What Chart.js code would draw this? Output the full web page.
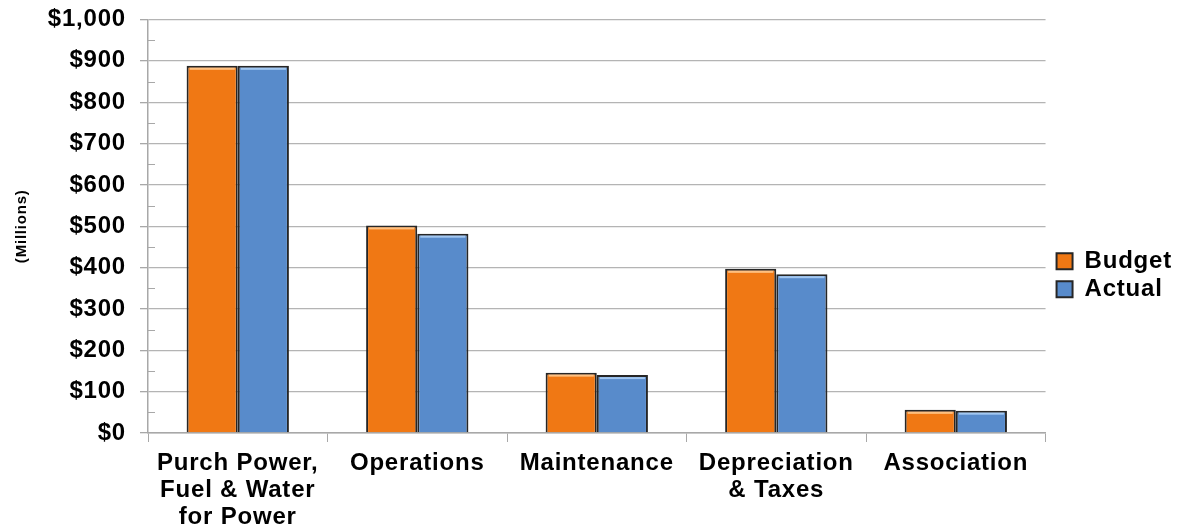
<!DOCTYPE html>
<html>
<head>
<meta charset="utf-8">
<script src="https://cdn.jsdelivr.net/npm/chart.js@4/dist/chart.umd.min.js"></script>
<style>
  body { margin: 0; background: #fff; }
  canvas { display: block; }
</style>
</head>
<body>
<canvas id="expenseChart" width="1179" height="531"></canvas>
<script>
const categories = [
    ["Purch Power,", "Fuel & Water", "for Power"],
    "Operations",
    "Maintenance",
    ["Depreciation", "& Taxes"],
    "Association"
];
const budget = [888, 502, 146, 397, 56];
const actual = [888, 482, 140, 384, 54];
const yTicks = [0, 100, 200, 300, 400, 500, 600, 700, 800, 900, 1000];
const minorTicks = [50, 150, 250, 350, 450, 550, 650, 750, 850, 950];

const FONT = "'Liberation Sans', Arial, sans-serif";
const EDGE = '#262626';

// slightly wider letter spacing on all canvas text
const spacing = {
    id: 'spacing',
    beforeUpdate(chart) { chart.ctx.letterSpacing = '0.8px'; },
    beforeDraw(chart) { chart.ctx.letterSpacing = '0.8px'; }
};

// keep a little more room between plot and legend
const legendGap = {
    id: 'legendGap',
    beforeDraw(chart) {
        const lg = chart.legend;
        const w = lg.right - lg.left;
        lg.left = chart.chartArea.right + 7;
        lg.right = lg.left + w;
    }
};

// small inside tick marks between the major ones
const minorMarks = {
    id: 'minorMarks',
    afterDraw(chart) {
        const ctx = chart.ctx;
        const y = chart.scales.y;
        ctx.save();
        ctx.strokeStyle = '#a8a8a8';
        ctx.lineWidth = 1;
        minorTicks.forEach(v => {
            const py = Math.round(y.getPixelForValue(v)) + 0.5;
            ctx.beginPath();
            ctx.moveTo(y.right, py);
            ctx.lineTo(y.right + 7, py);
            ctx.stroke();
        });
        ctx.restore();
    }
};

// light bevel strip along the top of each bar
const bevel = {
    id: 'bevel',
    afterDatasetsDraw(chart) {
        const ctx = chart.ctx;
        const tints = ['rgba(255,200,140,0.9)', 'rgba(170,205,245,0.9)'];
        chart.data.datasets.forEach((ds, i) => {
            chart.getDatasetMeta(i).data.forEach(bar => {
                const half = bar.width / 2;
                ctx.save();
                ctx.fillStyle = tints[i];
                ctx.fillRect(bar.x - half + 3, bar.y + 2, bar.width - 6, 2);
                ctx.restore();
            });
        });
    }
};

const ctx = document.getElementById('expenseChart').getContext('2d');
new Chart(ctx, {
    type: 'bar',
    data: {
        labels: categories,
        datasets: [
            {
                label: 'Budget',
                data: budget,
                backgroundColor: '#f07814',
                borderColor: EDGE,
                borderWidth: 2,
                categoryPercentage: 0.57,
                barPercentage: 1.0
            },
            {
                label: 'Actual',
                data: actual,
                backgroundColor: '#588bcb',
                borderColor: EDGE,
                borderWidth: 2,
                categoryPercentage: 0.57,
                barPercentage: 1.0
            }
        ]
    },
    options: {
        responsive: false,
        animation: false,
        layout: { padding: { top: 19.5, right: 4, bottom: 0, left: 0 } },
        plugins: {
            tooltip: { enabled: false },
            legend: {
                position: 'right',
                labels: {
                    color: '#000',
                    font: { family: FONT, size: 24, weight: 'bold' },
                    boxWidth: 16,
                    boxHeight: 16,
                    padding: 4,
                    generateLabels(chart) {
                        return chart.data.datasets.map((ds, i) => ({
                            text: ds.label,
                            fillStyle: ds.backgroundColor,
                            strokeStyle: EDGE,
                            lineWidth: 2,
                            datasetIndex: i,
                            hidden: false
                        }));
                    }
                }
            }
        },
        scales: {
            x: {
                grid: {
                    drawOnChartArea: false,
                    drawTicks: true,
                    tickLength: 9,
                    tickColor: '#a8a8a8'
                },
                border: { color: '#a8a8a8', width: 1.5 },
                ticks: {
                    color: '#000',
                    font: { family: FONT, size: 24, weight: 'bold', lineHeight: 1.12 },
                    padding: 8,
                    maxRotation: 0,
                    autoSkip: false
                },
                afterFit(scale) { scale.height = 98; }
            },
            y: {
                min: 0,
                max: 1000,
                afterBuildTicks(scale) {
                    scale.ticks = yTicks.map(v => ({ value: v }));
                },
                grid: {
                    color: '#b4b4b4',
                    lineWidth: 1.3,
                    tickLength: 8,
                    tickColor: '#a8a8a8'
                },
                border: { color: '#a8a8a8', width: 1.5 },
                ticks: {
                    color: '#000',
                    font: { family: FONT, size: 24, weight: 'bold' },
                    padding: 14,
                    callback: v => '$' + v.toLocaleString('en-US')
                },
                title: {
                    display: true,
                    text: '(Millions)',
                    color: '#000',
                    font: { family: FONT, size: 15, weight: 'bold' },
                    padding: { top: 13, bottom: 0 }
                },
                afterFit(scale) {
                    scale.width = 148;
                    scale.paddingTop = 0;
                    scale.paddingBottom = 0;
                }
            }
        }
    },
    plugins: [spacing, legendGap, minorMarks, bevel]
});
</script>
</body>
</html>
